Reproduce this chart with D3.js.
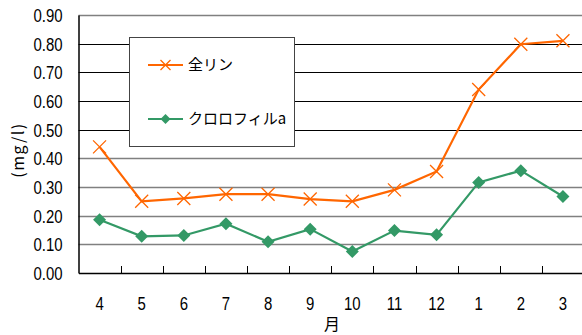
<!DOCTYPE html>
<html><head><meta charset="utf-8">
<script src="https://cdn.jsdelivr.net/npm/d3@7"></script>
<style>
body{margin:0;background:#fff;}
svg{display:block;}
</style></head>
<body>
<svg id="chart" width="582" height="335"></svg>
<script>
const months = ["4","5","6","7","8","9","10","11","12","1","2","3"];
const totalP = [0.44,0.25,0.26,0.275,0.275,0.258,0.25,0.29,0.354,0.64,0.798,0.81];
const chlA = [0.186,0.128,0.131,0.172,0.109,0.153,0.075,0.148,0.133,0.316,0.357,0.267];
const yTicks = [0,0.1,0.2,0.3,0.4,0.5,0.6,0.7,0.8,0.9];
const seriesNames = ["全リン","クロロフィルa"];
const colors = ["#FF6600","#339966"];

(function(){
const svg = d3.select("#chart");
const pLeft = 78.5, pRight = 584, pTop = 15, pBottom = 273;
const x = d3.scaleBand().domain(months).range([pLeft, pRight]);
const y = d3.scaleLinear().domain([0, 0.9]).range([pBottom, pTop]);
const numFont = "'Liberation Sans','Arial',sans-serif";
const jpFont = "'Noto Sans CJK JP','Noto Sans',sans-serif";

function condense(sel, k) {
  sel.each(function() {
    const w = this.getComputedTextLength();
    d3.select(this).attr("textLength", w * k).attr("lengthAdjust", "spacingAndGlyphs");
  });
}

// gridlines
svg.append("g").selectAll("line").data(yTicks.filter(d => d > 0)).join("line")
  .attr("x1", pLeft).attr("x2", 582)
  .attr("y1", d => Math.round(y(d)) + 0.5).attr("y2", d => Math.round(y(d)) + 0.5)
  .attr("stroke", d => (d >= 0.45 && d <= 0.85) ? "#000" : "#808080")
  .attr("stroke-width", d => (d >= 0.45 && d <= 0.85) ? 1 : 1.5);

// y axis
const yAxis = d3.axisLeft(y).tickValues(yTicks).tickFormat(d3.format(".2f")).tickSize(0).tickPadding(16);
const gy = svg.append("g").attr("transform", `translate(${pLeft},0)`).call(yAxis);
gy.select(".domain").attr("stroke", "#000").attr("stroke-width", 1.5);
gy.selectAll("text").attr("font-family", numFont).attr("font-size", 18).attr("fill", "#000").attr("dy", "0.36em")
  .call(condense, 0.83);

// x axis
const xAxis = d3.axisBottom(x).tickSize(0).tickPadding(24);
const gx = svg.append("g").attr("transform", `translate(0,${pBottom})`).call(xAxis);
gx.select(".domain").attr("stroke", "#000").attr("stroke-width", 1.5);
gx.selectAll("text").attr("font-family", numFont).attr("font-size", 18).attr("fill", "#000")
  .call(condense, 0.83);
// inner ticks between categories
gx.append("g").selectAll("line").data(months.slice(1)).join("line")
  .attr("x1", d => Math.round(x(d)) + 0.5).attr("x2", d => Math.round(x(d)) + 0.5)
  .attr("y1", 0).attr("y2", -7).attr("stroke", "#000").attr("stroke-width", 1);

// axis titles
svg.append("text").attr("x", 332).attr("y", 330).attr("text-anchor", "middle")
  .attr("font-family", jpFont).attr("font-size", 16).attr("fill", "#000").text("月");
svg.append("text").attr("transform", "translate(24,150) rotate(-90)").attr("text-anchor", "middle")
  .attr("font-family", jpFont).attr("font-size", 16).attr("letter-spacing", 1.5).attr("fill", "#000").text("(mg/l)");

const cx = d => x(d) + x.bandwidth() / 2;
const line = d3.line().x(d => cx(d.m)).y(d => y(d.v));

function xMarker(g, s, c) {
  g.append("path").attr("d", `M${-s},${-s}L${s},${s}M${-s},${s}L${s},${-s}`)
    .attr("stroke", c).attr("stroke-width", 1.3).attr("fill", "none");
}
function diamond(g, s, c) {
  g.append("path").attr("d", `M0,${-s}L${s},0L0,${s}L${-s},0Z`).attr("fill", c);
}

const dataP = months.map((m, i) => ({m, v: totalP[i]}));
const dataC = months.map((m, i) => ({m, v: chlA[i]}));

svg.append("path").datum(dataP).attr("d", line).attr("fill", "none").attr("stroke", colors[0]).attr("stroke-width", 2.2);
svg.append("g").selectAll("g").data(dataP).join("g")
  .attr("transform", d => `translate(${cx(d.m)},${y(d.v)})`)
  .each(function() { xMarker(d3.select(this), 6.5, colors[0]); });

svg.append("path").datum(dataC).attr("d", line).attr("fill", "none").attr("stroke", colors[1]).attr("stroke-width", 2.2);
svg.append("g").selectAll("g").data(dataC).join("g")
  .attr("transform", d => `translate(${cx(d.m)},${y(d.v)})`)
  .each(function() { diamond(d3.select(this), 6.5, colors[1]); });

// legend
const lg = svg.append("g");
lg.append("rect").attr("x", 129.5).attr("y", 37.5).attr("width", 165).attr("height", 109)
  .attr("fill", "#fff").attr("stroke", "#444").attr("stroke-width", 1);
const legY = [65, 119];
seriesNames.forEach((n, i) => {
  const g = lg.append("g");
  g.append("line").attr("x1", 148).attr("x2", 183).attr("y1", legY[i]).attr("y2", legY[i])
    .attr("stroke", colors[i]).attr("stroke-width", 2.2);
  const mg = g.append("g").attr("transform", `translate(165.5,${legY[i]})`);
  if (i === 0) xMarker(mg, 5, colors[i]); else diamond(mg, 5, colors[i]);
  g.append("text").attr("x", 188).attr("y", legY[i]).attr("dy", "0.36em")
    .attr("font-family", jpFont).attr("font-size", 15).attr("fill", "#000").text(n);
});
})();
</script>
</body></html>
